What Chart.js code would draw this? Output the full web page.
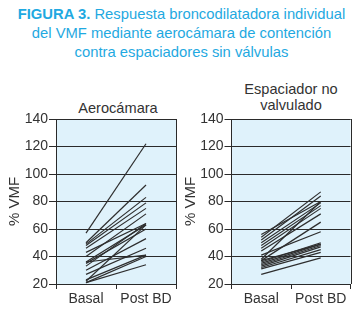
<!DOCTYPE html>
<html><head><meta charset="utf-8">
<script src="https://cdn.jsdelivr.net/npm/chart.js@4"></script>
<style>
html,body{margin:0;padding:0;background:#fff;width:363px;height:310px;overflow:hidden;font-family:"Liberation Sans",Arial,sans-serif;}
#title{position:absolute;left:0;top:5px;width:363px;text-align:center;color:#1fa9e1;font-size:14.8px;line-height:19px;}
.pt{position:absolute;text-align:center;color:#333;font-size:14.6px;line-height:16px;}
.box{position:absolute;}
</style></head><body>
<div id="title"><b>FIGURA 3.</b> Respuesta broncodilatadora individual<br>del VMF mediante aerocámara de contención<br>contra espaciadores sin válvulas</div>
<div class="pt" style="left:56px;width:124px;top:100px;">Aerocámara</div>
<div class="pt" style="left:230px;width:122px;top:81px;">Espaciador no<br>valvulado</div>
<div class="box" style="left:0;top:100px;width:185px;height:210px;"><canvas id="c1"></canvas></div>
<div class="box" style="left:178px;top:100px;width:185px;height:210px;"><canvas id="c2"></canvas></div>
<script>
const categories = ["Basal", "Post BD"];
const yTicks = [20, 40, 60, 80, 100, 120, 140];
const aeroBasal = [57, 50, 49, 48, 46, 43, 40, 36, 35, 33, 30, 27, 23, 22, 21, 36, 21];
const aeroPost  = [122, 92, 83, 79, 75, 64, 71, 63, 60, 64, 53, 46, 41, 63, 40, 41, 34];
const espBasal  = [56, 54, 52, 50, 48, 46, 44, 41, 38, 37, 36, 35, 34, 33, 32, 31, 27, 37];
const espPost   = [80, 87, 84, 79, 77, 75, 71, 58, 80, 65, 50, 49, 48, 47, 45, 43, 39, 49];

const ink = '#2a2a2a';
const bgPlugin = {
  id: 'bg',
  beforeDraw(chart) {
    const {ctx, chartArea: a} = chart;
    ctx.save();
    ctx.fillStyle = '#dff2fb';
    ctx.fillRect(a.left, a.top, a.right - a.left, a.bottom - a.top);
    ctx.restore();
  },
  afterDraw(chart) {
    const {ctx, chartArea: a} = chart;
    ctx.save();
    ctx.strokeStyle = ink;
    ctx.lineWidth = 1;
    ctx.beginPath();
    ctx.moveTo(Math.round(a.right) + 0.5, a.top);
    ctx.lineTo(Math.round(a.right) + 0.5, a.bottom);
    ctx.moveTo(a.left, Math.round(a.top) + 0.5);
    ctx.lineTo(a.right, Math.round(a.top) + 0.5);
    ctx.stroke();
    ctx.restore();
  }
};

function makeChart(id, basal, post, padL, yW, padR) {
  const datasets = basal.map((b, i) => ({
    data: [b, post[i]],
    borderColor: '#2e2e2e',
    borderWidth: 1.2,
    pointRadius: 0,
    fill: false,
    tension: 0
  }));
  return new Chart(document.getElementById(id), {
    type: 'line',
    data: { labels: categories, datasets },
    options: {
      responsive: true,
      maintainAspectRatio: false,
      animation: false,
      devicePixelRatio: 1,
      layout: { padding: { left: padL, right: padR, top: 19, bottom: 0 } },
      plugins: { legend: { display: false }, tooltip: { enabled: false }, title: { display: false } },
      scales: {
        x: {
          offset: true,
          grid: { offset: true, drawOnChartArea: false, color: ink, tickLength: 5, lineWidth: 1 },
          border: { display: true, color: ink, width: 1 },
          ticks: { color: '#333', padding: 2, font: { family: '"Liberation Sans", Arial', size: 14 } },
          afterFit(s) { s.height = 26; }
        },
        y: {
          min: 20, max: 140,
          afterBuildTicks(s) { s.ticks = yTicks.map(v => ({ value: v })); },
          grid: { color: ink, tickLength: 7, lineWidth: 1 },
          border: { display: true, color: ink, width: 1 },
          ticks: { color: '#333', padding: 1, font: { family: '"Liberation Sans", Arial', size: 14 } },
          title: { display: true, text: '% VMF', color: '#333', padding: { top: 4, bottom: 0 }, font: { family: '"Liberation Sans", Arial', size: 15 } },
          afterFit(s) { s.width = yW; }
        }
      }
    },
    plugins: [bgPlugin]
  });
}
makeChart('c1', aeroBasal, aeroPost, 2, 54, 9);
makeChart('c2', espBasal, espPost, 0, 53.5, 12.5);
</script>
</body></html>
